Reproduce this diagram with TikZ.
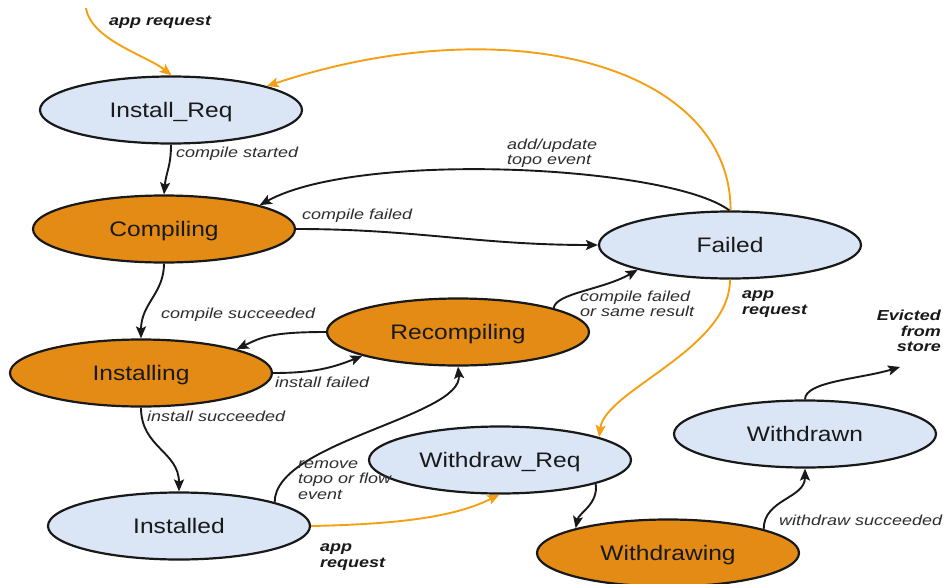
\documentclass[tikz,border=0pt]{standalone}
\usepackage{fontspec}
\setmainfont{Liberation Sans}
\newfontfamily\statefont[FakeStretch=1.17]{Liberation Sans}
\newfontfamily\labelfont[FakeStretch=1.24]{Liberation Sans}
\usetikzlibrary{shapes.geometric,arrows.meta}
\definecolor{stblue}{RGB}{218,230,245}
\definecolor{storange}{RGB}{227,139,20}
\definecolor{arrorange}{RGB}{245,160,20}
\definecolor{ink}{RGB}{25,25,25}
\definecolor{labelink}{RGB}{45,45,45}
\begin{document}
\begin{tikzpicture}[x=1pt,y=-1pt,
  state/.style={ellipse, draw=ink, line width=2.2pt, minimum width=262pt, minimum height=67pt, inner sep=0pt, text height=20pt, text depth=5pt, font=\statefont\fontsize{21}{24}\selectfont, text=ink},
  bluestate/.style={state, fill=stblue},
  orangestate/.style={state, fill=storange},
  trans/.style={draw=ink, line width=1.9pt, -{Stealth[length=12pt,width=10pt,inset=2.5pt]}},
  apptrans/.style={draw=arrorange, line width=1.9pt, -{Stealth[length=12pt,width=10pt,inset=2.5pt]}},
  lbl/.style={font=\labelfont\itshape\fontsize{14.5}{15.5}\selectfont, text=labelink, inner sep=0pt, align=left},
  boldlbl/.style={lbl, font=\labelfont\bfseries\itshape\fontsize{14.5}{15.5}\selectfont, text=ink},
]
\fill[white] (0,0) rectangle (943,584);
\path[use as bounding box] (0,0) rectangle (943,584);

% states
\node[bluestate]   (inreq)   at (171,110) {Install\_Req};
\node[orangestate] (comp)    at (164,229) {Compiling};
\node[bluestate]   (failed)  at (730,245) {Failed};
\node[orangestate] (insting) at (141,373) {Installing};
\node[orangestate] (recomp)  at (458,332) {Recompiling};
\node[bluestate]   (insted)  at (179,526) {Installed};
\node[bluestate]   (wreq)    at (500,460) {Withdraw\_Req};
\node[orangestate] (wing)    at (668,553) {Withdrawing};
\node[bluestate]   (wdn)     at (805,434) {Withdrawn};

% free ends
\coordinate (appstart) at (86,8);
\coordinate (evict) at (900,367);

% orange (app request) transitions
\draw[apptrans] (appstart) .. controls +(5,32) and +(-25,-20) .. (inreq.89);
\draw[apptrans] (failed.89.5) .. controls +(0,-145) and +(242,-80) .. (inreq.14);
\draw[apptrans] (insted.0) .. controls +(100,-2) and +(-40,20) .. (wreq.-91);
\draw[apptrans] (failed.-90) .. controls +(0,70) and +(6,-47) .. (wreq.13.9);

% black transitions
\draw[trans] (inreq.-90) .. controls +(0,22) and +(2,-22) .. (comp.90);
\draw[trans] (failed.91) .. controls +(-60,-45) and +(100,-55) .. (comp.14.5);
\draw[trans] (comp.0) .. controls +(120,0) and +(-120,0) .. (failed.180);
\draw[trans] (comp.-90) .. controls +(0,30) and +(0,-35) .. (insting.90);
\draw[trans] (recomp.180) .. controls +(-55,0) and +(25,-12) .. (insting.14);
\draw[trans] (insting.0) .. controls +(40,0) and +(-30,12) .. (recomp.-166);
\draw[trans] (recomp.14.7) .. controls +(2,-15) and +(-35,20) .. (failed.-165);
\draw[trans] (insting.-90) .. controls +(0,40) and +(0,-40) .. (insted.90);
\draw[trans] (insted.14.7) .. controls +(0,-60) and +(5,50) .. (recomp.-90);
\draw[trans] (wreq.-14.1) .. controls +(3,20) and +(3,-15) .. (wing.165.5);
\draw[trans] (wing.14.2) .. controls +(0,-30) and +(0,30) .. (wdn.-90);
\draw[trans] (wdn.90) .. controls +(0,-18) and +(-40,12) .. (evict);

% labels
\node[boldlbl, anchor=west] (lapp1) at (109,22) {app request};
\node[lbl, anchor=west] (lcs) at (176,154) {compile started};
\node[lbl, anchor=west] (ladd) at (507,153) {add/update\\topo event};
\node[lbl, anchor=west] (lcf) at (302,216) {compile failed};
\node[lbl, anchor=west] (lcsu) at (161,315) {compile succeeded};
\node[lbl, anchor=west] (lif) at (275,382) {install failed};
\node[lbl, anchor=west] (lcfs) at (580,304) {compile failed\\or same result};
\node[boldlbl, anchor=west] (lapp2) at (742,304) {app\\request};
\node[lbl, anchor=west] (lis) at (147,416) {install succeeded};
\node[lbl, anchor=west] (lrem) at (298,480) {remove\\topo or flow\\event};
\node[boldlbl, anchor=west] (lapp3) at (320,557) {app\\request};
\node[lbl, anchor=west] (lws) at (779,520) {withdraw succeeded};
\node[boldlbl, anchor=east, align=right] (lev) at (941,331) {Evicted\\from\\store};
\end{tikzpicture}
\end{document}
